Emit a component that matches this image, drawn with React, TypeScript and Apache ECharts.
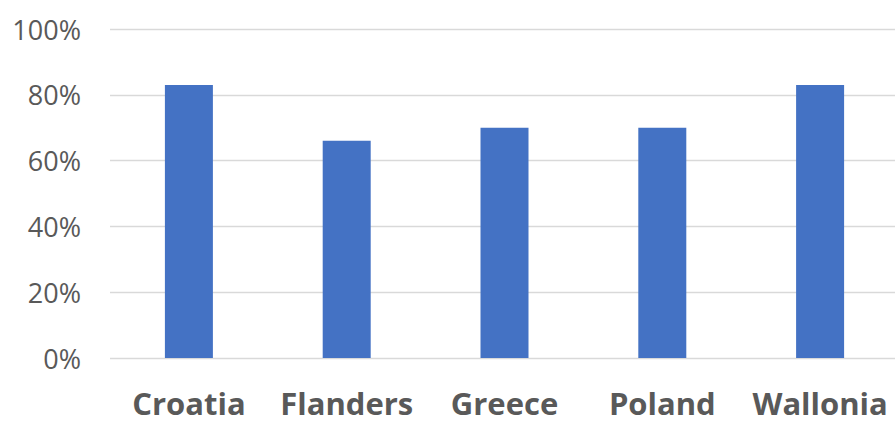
import React, { useEffect, useRef } from "react";
import * as echarts from "echarts";

// Share of respondents per region (percent)
const categories = ["Croatia", "Flanders", "Greece", "Poland", "Wallonia"];
const shares = [83, 66, 70, 70, 83];
const yTicks = { min: 0, max: 100, interval: 20 };

export default function App() {
  const ref = useRef<HTMLDivElement>(null);

  useEffect(() => {
    if (!ref.current) return;
    const chart = echarts.init(ref.current, null, { renderer: "svg" });
    chart.setOption({
      animation: false,
      backgroundColor: "#ffffff",
      grid: { left: 110, right: 0, top: 29, bottom: 63, containLabel: false },
      xAxis: {
        type: "category",
        data: categories,
        axisLine: { show: false },
        axisTick: { show: false },
        axisLabel: {
          interval: 0,
          margin: 32,
          lineHeight: 26,
          fontFamily: "Open Sans",
          fontWeight: "bold",
          fontSize: 31,
          color: "#595959",
        },
      },
      yAxis: {
        type: "value",
        min: yTicks.min,
        max: yTicks.max,
        interval: yTicks.interval,
        axisLine: { show: false },
        axisTick: { show: false },
        splitLine: { lineStyle: { color: "#d9d9d9", width: 1.3 } },
        axisLabel: {
          formatter: "{value}%",
          margin: 29,
          fontFamily: "Open Sans",
          fontSize: 27,
          color: "#595959",
        },
      },
      series: [
        {
          type: "bar",
          data: shares,
          barWidth: 48,
          itemStyle: { color: "#4472C4" },
        },
      ],
    });
    return () => chart.dispose();
  }, []);

  // The plot runs a few pixels past the right edge of the visible frame.
  return (
    <div
      style={{
        position: "absolute",
        left: 0,
        top: 0,
        width: 895,
        height: 421,
        overflow: "hidden",
        background: "#ffffff",
      }}
    >
      <div ref={ref} style={{ width: 899, height: 421 }} />
    </div>
  );
}
